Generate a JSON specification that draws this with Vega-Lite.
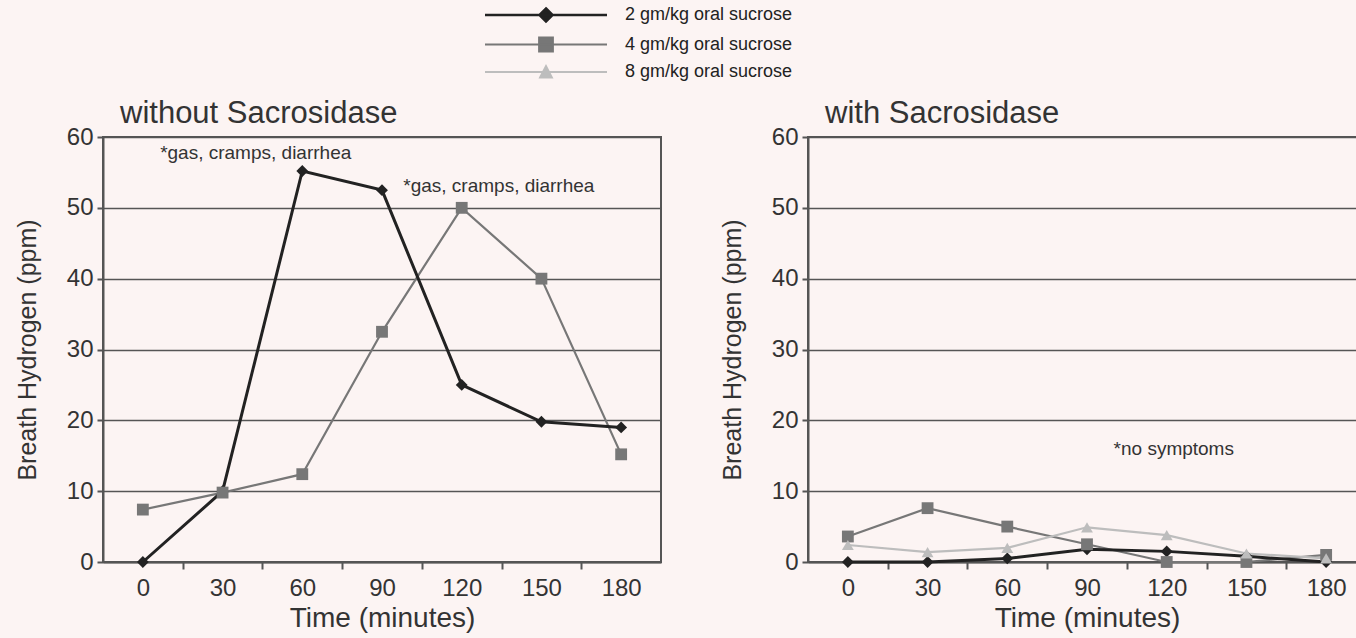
{
  "$schema": "https://vega.github.io/schema/vega-lite/v6.json",
  "background": "#fcf4f3",
  "padding": {"left": 14, "top": 6, "right": 0, "bottom": 5},
  "config": {
    "font": "Liberation Sans",
    "view": {"stroke": "#555", "strokeWidth": 2},
    "axis": {
      "labelFont": "Liberation Sans", "titleFont": "Liberation Sans",
      "labelColor": "#333", "titleColor": "#333", "titleFontWeight": "normal",
      "labelFontSize": 24, "titleFontSize": 26,
      "domainColor": "#555", "domainWidth": 2, "tickColor": "#555", "tickWidth": 2,
      "gridColor": "#555", "gridWidth": 1.5, "gridOpacity": 1
    },
    "title": {"font": "Liberation Sans", "fontSize": 31, "fontWeight": "normal", "color": "#333"}
  },
  "datasets": {
    "h2": [
      {"panel": "without", "series": "2 gm/kg oral sucrose", "time": 0, "ppm": 0},
      {"panel": "without", "series": "2 gm/kg oral sucrose", "time": 30, "ppm": 10},
      {"panel": "without", "series": "2 gm/kg oral sucrose", "time": 60, "ppm": 55.2},
      {"panel": "without", "series": "2 gm/kg oral sucrose", "time": 90, "ppm": 52.5},
      {"panel": "without", "series": "2 gm/kg oral sucrose", "time": 120, "ppm": 25},
      {"panel": "without", "series": "2 gm/kg oral sucrose", "time": 150, "ppm": 19.8},
      {"panel": "without", "series": "2 gm/kg oral sucrose", "time": 180, "ppm": 19},
      {"panel": "without", "series": "4 gm/kg oral sucrose", "time": 0, "ppm": 7.4},
      {"panel": "without", "series": "4 gm/kg oral sucrose", "time": 30, "ppm": 9.8},
      {"panel": "without", "series": "4 gm/kg oral sucrose", "time": 60, "ppm": 12.4},
      {"panel": "without", "series": "4 gm/kg oral sucrose", "time": 90, "ppm": 32.5},
      {"panel": "without", "series": "4 gm/kg oral sucrose", "time": 120, "ppm": 50},
      {"panel": "without", "series": "4 gm/kg oral sucrose", "time": 150, "ppm": 40},
      {"panel": "without", "series": "4 gm/kg oral sucrose", "time": 180, "ppm": 15.2},
      {"panel": "with", "series": "2 gm/kg oral sucrose", "time": 0, "ppm": 0},
      {"panel": "with", "series": "2 gm/kg oral sucrose", "time": 30, "ppm": 0},
      {"panel": "with", "series": "2 gm/kg oral sucrose", "time": 60, "ppm": 0.5},
      {"panel": "with", "series": "2 gm/kg oral sucrose", "time": 90, "ppm": 1.8},
      {"panel": "with", "series": "2 gm/kg oral sucrose", "time": 120, "ppm": 1.5},
      {"panel": "with", "series": "2 gm/kg oral sucrose", "time": 150, "ppm": 0.8},
      {"panel": "with", "series": "2 gm/kg oral sucrose", "time": 180, "ppm": 0},
      {"panel": "with", "series": "4 gm/kg oral sucrose", "time": 0, "ppm": 3.6},
      {"panel": "with", "series": "4 gm/kg oral sucrose", "time": 30, "ppm": 7.6},
      {"panel": "with", "series": "4 gm/kg oral sucrose", "time": 60, "ppm": 5},
      {"panel": "with", "series": "4 gm/kg oral sucrose", "time": 90, "ppm": 2.5},
      {"panel": "with", "series": "4 gm/kg oral sucrose", "time": 120, "ppm": 0},
      {"panel": "with", "series": "4 gm/kg oral sucrose", "time": 150, "ppm": 0},
      {"panel": "with", "series": "4 gm/kg oral sucrose", "time": 180, "ppm": 1},
      {"panel": "with", "series": "8 gm/kg oral sucrose", "time": 0, "ppm": 2.4},
      {"panel": "with", "series": "8 gm/kg oral sucrose", "time": 30, "ppm": 1.4},
      {"panel": "with", "series": "8 gm/kg oral sucrose", "time": 60, "ppm": 2},
      {"panel": "with", "series": "8 gm/kg oral sucrose", "time": 90, "ppm": 4.9},
      {"panel": "with", "series": "8 gm/kg oral sucrose", "time": 120, "ppm": 3.8},
      {"panel": "with", "series": "8 gm/kg oral sucrose", "time": 150, "ppm": 1.2},
      {"panel": "with", "series": "8 gm/kg oral sucrose", "time": 180, "ppm": 0.5}
    ],
    "notes": [
      {"panel": "without", "time": 6.5, "ppm": 57.7, "label": "*gas, cramps, diarrhea"},
      {"panel": "without", "time": 98, "ppm": 53.1, "label": "*gas, cramps, diarrhea"},
      {"panel": "with", "time": 100, "ppm": 16, "label": "*no symptoms"}
    ]
  },
  "spacing": 57,
  "hconcat": [
    {
      "width": 558, "height": 425,
      "title": {"text": "without Sacrosidase", "anchor": "start", "frame": "group", "dx": 17, "offset": -5},
      "encoding": {
        "x": {"field": "time", "type": "quantitative", "scale": {"domain": [-15, 195], "nice": false, "zero": false},
          "axis": {"values": [0, 15, 30, 45, 60, 75, 90, 105, 120, 135, 150, 165, 180], "labelExpr": "datum.value % 30 === 0 ? datum.label : ''",
            "tickOpacity": {"condition": {"test": "datum.value % 30 === 0", "value": 0}, "value": 1},
            "tickSize": 7, "grid": false, "labelPadding": 7, "titlePadding": 4, "titleFontSize": 28, "labelFlush": false},
          "title": "Time (minutes)"},
        "y": {"field": "ppm", "type": "quantitative", "scale": {"domain": [0, 60], "nice": false},
          "axis": {"values": [0, 10, 20, 30, 40, 50, 60], "tickSize": 6, "labelPadding": 4, "titlePadding": 26, "titleFontSize": 25, "grid": true},
          "title": "Breath Hydrogen (ppm)"}
      },
      "layer": [
        {
          "data": {"name": "h2"},
          "transform": [{"filter": "datum.panel === 'without' && datum.series !== '2 gm/kg oral sucrose'"}],
          "mark": {"type": "line", "strokeWidth": 2.2},
          "encoding": {
            "color": {"field": "series", "type": "nominal",
              "scale": {"domain": ["2 gm/kg oral sucrose", "4 gm/kg oral sucrose", "8 gm/kg oral sucrose"], "range": ["#222222", "#777777", "#bdbdbd"]},
              "legend": {
                "orient": "none", "legendX": 434, "legendY": -131, "title": null, "direction": "vertical",
                "labelFontSize": 18, "labelColor": "#222", "labelOffset": 70, "labelLimit": 0, "rowPadding": 6.5, "padding": 0, "symbolSize": 100,
                "encode": {"symbols": {"update": {
                  "shape": {"signal": "datum.value === '2 gm/kg oral sucrose' ? 'M-12.2,0H12.2M0,-1.3L1.3,0L0,1.3L-1.3,0Z' : datum.value === '4 gm/kg oral sucrose' ? 'M-12.2,0H12.2M-1.4,-1.4H1.4V1.4H-1.4Z' : 'M-12.2,0H12.2M-1.2,1.1L0,-1.2L1.2,1.1Z'"},
                  "strokeWidth": {"signal": "datum.value === '2 gm/kg oral sucrose' ? 2.6 : 1.8"},
                  "opacity": {"value": 1}, "fillOpacity": {"value": 1}, "strokeOpacity": {"value": 1}
                }}}
              }}
          }
        },
        {
          "data": {"name": "h2"},
          "transform": [{"filter": "datum.panel === 'without' && datum.series === '2 gm/kg oral sucrose'"}],
          "mark": {"type": "line", "strokeWidth": 3},
          "encoding": {"color": {"field": "series", "type": "nominal", "legend": null}}
        },
        {
          "data": {"name": "h2"},
          "transform": [{"filter": "datum.panel === 'without'"}],
          "mark": {"type": "point", "filled": true, "opacity": 1},
          "encoding": {
            "color": {"field": "series", "type": "nominal", "legend": null},
            "shape": {"field": "series", "type": "nominal", "scale": {"range": ["diamond", "square", "triangle-up"]}, "legend": null},
            "size": {"value": 140}
          }
        },
        {
          "data": {"name": "notes"},
          "transform": [{"filter": "datum.panel === 'without'"}],
          "mark": {"type": "text", "align": "left", "baseline": "middle", "fontSize": 19, "color": "#333"},
          "encoding": {"text": {"field": "label"}}
        }
      ]
    },
    {
      "width": 558, "height": 425,
      "title": {"text": "with Sacrosidase", "anchor": "start", "frame": "group", "dx": 17, "offset": -5},
      "encoding": {
        "x": {"field": "time", "type": "quantitative", "scale": {"domain": [-15, 195], "nice": false, "zero": false},
          "axis": {"values": [0, 15, 30, 45, 60, 75, 90, 105, 120, 135, 150, 165, 180], "labelExpr": "datum.value % 30 === 0 ? datum.label : ''",
            "tickOpacity": {"condition": {"test": "datum.value % 30 === 0", "value": 0}, "value": 1},
            "tickSize": 7, "grid": false, "labelPadding": 7, "titlePadding": 4, "titleFontSize": 28, "labelFlush": false},
          "title": "Time (minutes)"},
        "y": {"field": "ppm", "type": "quantitative", "scale": {"domain": [0, 60], "nice": false},
          "axis": {"values": [0, 10, 20, 30, 40, 50, 60], "tickSize": 6, "labelPadding": 4, "titlePadding": 26, "titleFontSize": 25, "grid": true},
          "title": "Breath Hydrogen (ppm)"}
      },
      "layer": [
        {
          "data": {"name": "h2"},
          "transform": [{"filter": "datum.panel === 'with' && datum.series !== '2 gm/kg oral sucrose'"}],
          "mark": {"type": "line", "strokeWidth": 2.2},
          "encoding": {"color": {"field": "series", "type": "nominal", "legend": null}}
        },
        {
          "data": {"name": "h2"},
          "transform": [{"filter": "datum.panel === 'with' && datum.series === '2 gm/kg oral sucrose'"}],
          "mark": {"type": "line", "strokeWidth": 3},
          "encoding": {"color": {"field": "series", "type": "nominal", "legend": null}}
        },
        {
          "data": {"name": "h2"},
          "transform": [{"filter": "datum.panel === 'with'"}],
          "mark": {"type": "point", "filled": true, "opacity": 1},
          "encoding": {
            "color": {"field": "series", "type": "nominal", "legend": null},
            "shape": {"field": "series", "type": "nominal", "legend": null},
            "size": {"value": 140}
          }
        },
        {
          "data": {"name": "notes"},
          "transform": [{"filter": "datum.panel === 'with'"}],
          "mark": {"type": "text", "align": "left", "baseline": "middle", "fontSize": 19, "color": "#333"},
          "encoding": {"text": {"field": "label"}}
        }
      ]
    }
  ]
}
